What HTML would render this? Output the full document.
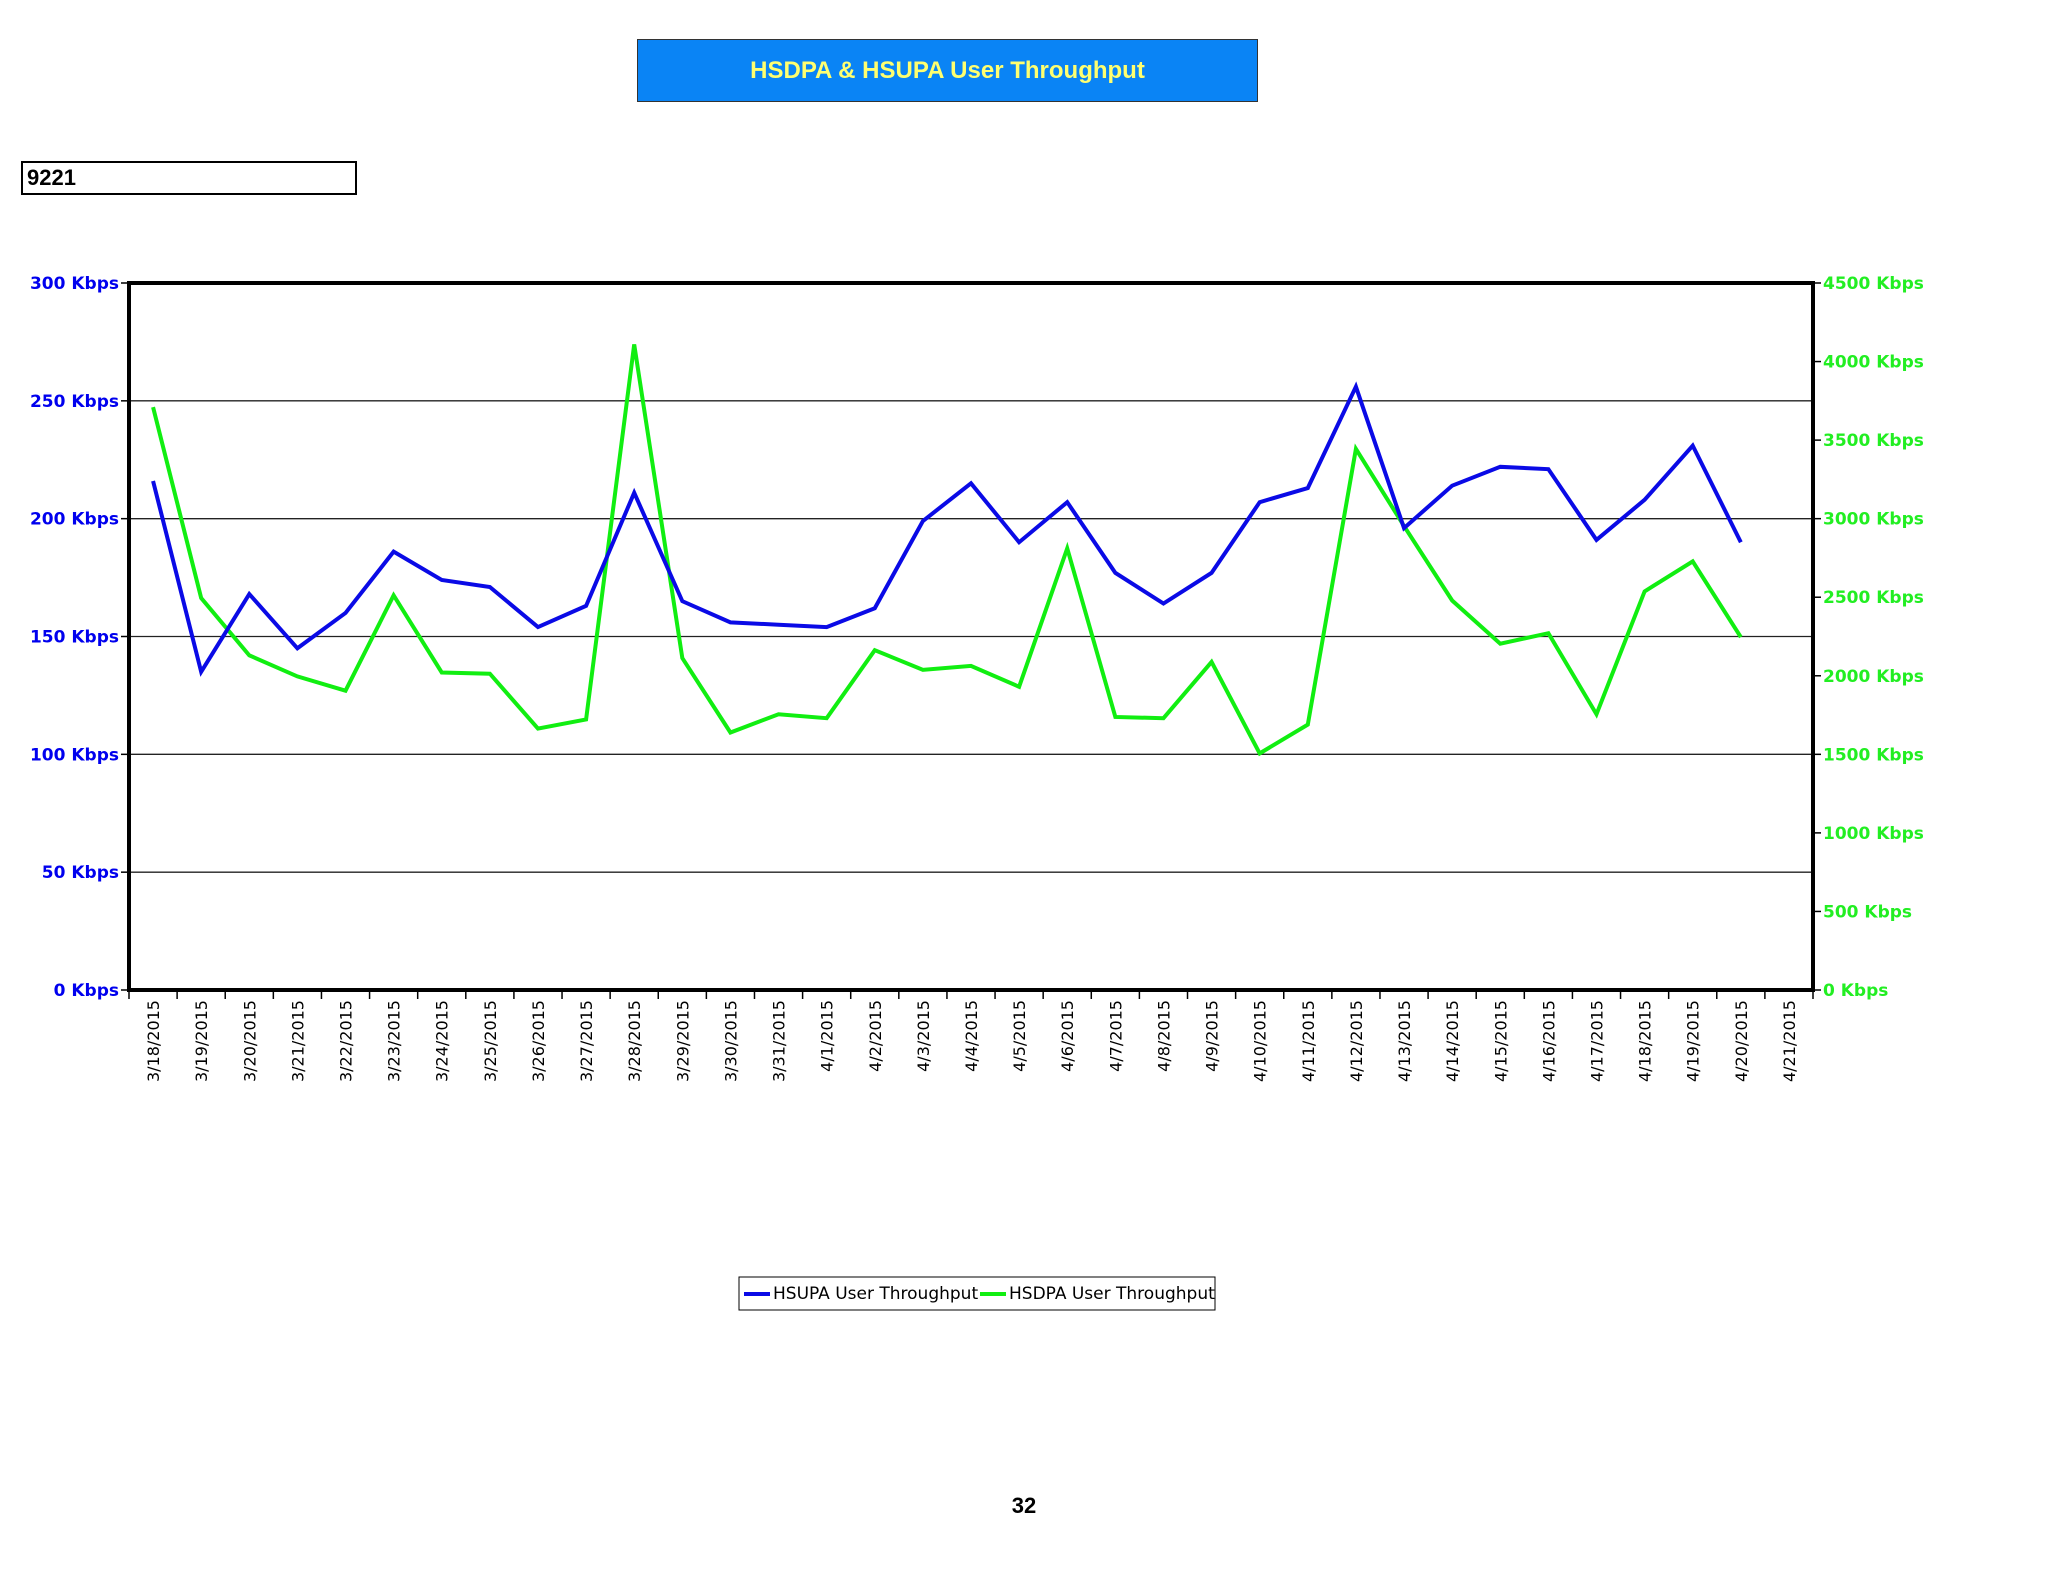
<!DOCTYPE html>
<html><head><meta charset="utf-8"><style>
body{margin:0;background:#fff;width:2048px;height:1582px;position:relative;overflow:hidden;font-family:"Liberation Sans",sans-serif}
#title{position:absolute;left:637px;top:39px;width:619px;height:61px;background:#0a84f5;border:1px solid #333;color:#ffff70;font-weight:bold;font-size:24px;display:flex;align-items:center;justify-content:center}
#site{position:absolute;left:21px;top:161px;width:328px;height:30px;border:2px solid #000;font-weight:bold;font-size:22px;line-height:30px;padding-left:4px;box-sizing:content-box}
#pg{position:absolute;left:1004px;top:1493px;width:40px;text-align:center;font-weight:bold;font-size:22px}
</style></head><body>
<div id="title">HSDPA &amp; HSUPA User Throughput</div>
<div id="site">9221</div>
<svg id="chart" width="2048" height="1582" style="position:absolute;left:0;top:0"></svg>
<div id="pg">32</div>
<script>
const categories=["3/18/2015","3/19/2015","3/20/2015","3/21/2015","3/22/2015","3/23/2015","3/24/2015","3/25/2015","3/26/2015","3/27/2015","3/28/2015","3/29/2015","3/30/2015","3/31/2015","4/1/2015","4/2/2015","4/3/2015","4/4/2015","4/5/2015","4/6/2015","4/7/2015","4/8/2015","4/9/2015","4/10/2015","4/11/2015","4/12/2015","4/13/2015","4/14/2015","4/15/2015","4/16/2015","4/17/2015","4/18/2015","4/19/2015","4/20/2015","4/21/2015"];
const hsupa=[216,135,168,145,160,186,174,171,154,163,211,165,156,155,154,162,199,215,190,207,177,164,177,207,213,256,196,214,222,221,191,208,231,190];
const hsdpa=[3710,2495,2130,1996,1905,2512,2021,2013,1664,1722,4109,2113,1639,1755,1730,2163,2038,2063,1930,2811,1738,1730,2088,1506,1689,3444,2953,2479,2204,2271,1755,2537,2728,2246];
const leftTicks=[0,50,100,150,200,250,300];
const rightTicks=[0,500,1000,1500,2000,2500,3000,3500,4000,4500];
const NS="http://www.w3.org/2000/svg";
const svg=document.getElementById('chart');
const L=129,R=1813,T=283,B=990;
const step=(R-L)/categories.length;
const xAt=i=>L+step*(i+0.5);
const yL=v=>B-(v/300)*(B-T);
const yR=v=>B-(v/4500)*(B-T);
function mk(tag,a,p){const e=document.createElementNS(NS,tag);for(const k in a)e.setAttribute(k,a[k]);(p||svg).appendChild(e);return e;}
leftTicks.forEach(v=>{
 const y=yL(v);
 if(v>0&&v<300){const g=mk('line',{x1:L,x2:R,y1:y,y2:y,stroke:'#222','stroke-width':1.3});
 
 }
 mk('line',{x1:L-8,x2:L,y1:y,y2:y,stroke:'#000','stroke-width':1.5});
 const t=mk('text',{x:L-10,y:y+6,'text-anchor':'end',fill:'#0000ee','font-size':17,'font-weight':'bold','font-family':'DejaVu Sans, sans-serif'});
 t.textContent=v+' Kbps';
 
 
});
rightTicks.forEach(v=>{
 const y=yR(v);
 mk('line',{x1:R,x2:R+8,y1:y,y2:y,stroke:'#000','stroke-width':1.5});
 const t=mk('text',{x:R+10,y:y+6,'text-anchor':'start',fill:'#22ee22','font-size':17,'font-weight':'bold','font-family':'DejaVu Sans, sans-serif'});
 t.textContent=v+' Kbps';
 
 
});
categories.forEach((c,i)=>{
 const x0=L+step*i;
 mk('line',{x1:x0,x2:x0,y1:B,y2:B+9,stroke:'#000','stroke-width':1.5});
 const x=xAt(i)+6;
 const t=mk('text',{x:x,y:B+10,'text-anchor':'end',transform:`rotate(-90 ${x} ${B+10})`,fill:'#000','font-size':16,'font-family':'DejaVu Sans, sans-serif'});
 t.textContent=c;
 
 
});
mk('line',{x1:R,x2:R,y1:B,y2:B+9,stroke:'#000','stroke-width':1.5});
const frame=mk('rect',{x:L,y:T,width:R-L,height:B-T,fill:'none',stroke:'#000','stroke-width':4});


const p1=mk('polyline',{points:hsdpa.map((v,i)=>xAt(i)+','+yR(v)).join(' '),fill:'none',stroke:'#11ee11','stroke-width':4,'stroke-linejoin':'miter'});


const p2=mk('polyline',{points:hsupa.map((v,i)=>xAt(i)+','+yL(v)).join(' '),fill:'none',stroke:'#0a0ae6','stroke-width':4,'stroke-linejoin':'miter'});


// legend
const lg=mk('g',{});


mk('rect',{x:739,y:1277,width:476,height:33,fill:'#fff',stroke:'#000','stroke-width':1},lg);
mk('line',{x1:744,x2:770,y1:1294,y2:1294,stroke:'#0a0ae6','stroke-width':4},lg);
const l1=mk('text',{x:773,y:1299,'font-size':17,'font-family':'DejaVu Sans, sans-serif',fill:'#000'},lg);
l1.textContent='HSUPA User Throughput';


mk('line',{x1:980,x2:1006,y1:1294,y2:1294,stroke:'#11ee11','stroke-width':4},lg);
const l2=mk('text',{x:1009,y:1299,'font-size':17,'font-family':'DejaVu Sans, sans-serif',fill:'#000'},lg);
l2.textContent='HSDPA User Throughput';


</script>
</body></html>
